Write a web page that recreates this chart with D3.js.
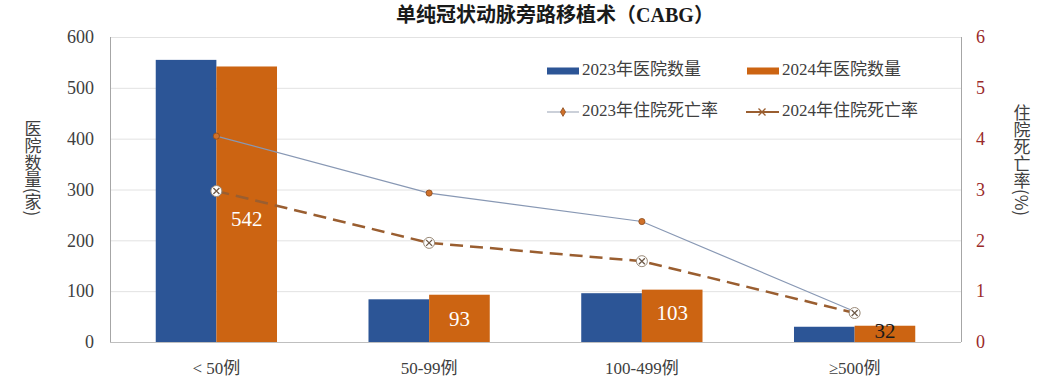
<!DOCTYPE html>
<html>
<head>
<meta charset="utf-8">
<script src="https://cdn.jsdelivr.net/npm/d3@7"></script>
<style>
  body { margin: 0; background: #fff; }
  .chart text { font-family: "Liberation Serif", "Noto Sans CJK SC", serif; }
  .vtitle { font-family: "Noto Sans CJK SC", sans-serif !important; writing-mode: vertical-rl; text-orientation: mixed; }
</style>
</head>
<body>
<svg class="chart"></svg>
<script>
var categories = ["< 50例", "50-99例", "100-499例", "≥500例"];
var series = ["2023年医院数量", "2024年医院数量"];
var hospitals2023 = [555, 84, 96, 30];
var hospitals2024 = [542, 93, 103, 32];
var mortality2023 = [4.05, 2.93, 2.37, 0.6];
var mortality2024 = [2.97, 1.95, 1.59, 0.57];
var leftTicks = [0, 100, 200, 300, 400, 500, 600];
var rightTicks = [0, 1, 2, 3, 4, 5, 6];

(function() {
    var width = 1048, height = 389;
    var margin = {top: 37, right: 87, bottom: 47, left: 110};
    var plotW = width - margin.left - margin.right,
        bottom = height - margin.bottom;

    var svg = d3.select(".chart")
        .attr("width", width)
        .attr("height", height);

    var x0 = d3.scaleBand().domain(categories)
        .range([margin.left, margin.left + plotW])
        .paddingInner(0.43).paddingOuter(0.215);
    var x1 = d3.scaleBand().domain(series).range([0, x0.bandwidth()]);
    var y = d3.scaleLinear().domain([0, 600]).range([bottom, margin.top]);
    var y2 = d3.scaleLinear().domain([0, 6]).range([bottom, margin.top]);
    var colors = ["#2c5596", "#cc6412"];

    // grid
    svg.append("g").selectAll("line")
        .data(leftTicks)
        .enter().append("line")
        .attr("x1", margin.left).attr("x2", margin.left + plotW)
        .attr("y1", function(d) { return y(d) + 0.5; })
        .attr("y2", function(d) { return y(d) + 0.5; })
        .attr("stroke", function(d) { return d === 0 ? "#bfbfbf" : "#e2e2e2"; })
        .attr("stroke-width", 1);

    svg.append("line").attr("x1", margin.left + 0.5).attr("x2", margin.left + 0.5)
        .attr("y1", y(600)).attr("y2", bottom).attr("stroke", "#a6a6a6");
    svg.append("line").attr("x1", margin.left + plotW + 0.5).attr("x2", margin.left + plotW + 0.5)
        .attr("y1", y(600)).attr("y2", bottom).attr("stroke", "#a6a6a6");

    // axes
    var leftAxis = svg.append("g")
        .attr("transform", "translate(" + (margin.left - 16) + ",0)")
        .call(d3.axisLeft(y).tickValues(leftTicks).tickSize(0).tickPadding(0));
    leftAxis.select(".domain").remove();
    leftAxis.selectAll("text").attr("font-size", 18).attr("fill", "#404040")
        .style("font-family", "Liberation Serif");

    var rightAxis = svg.append("g")
        .attr("transform", "translate(" + (margin.left + plotW + 15) + ",0)")
        .call(d3.axisRight(y2).tickValues(rightTicks).tickFormat(d3.format("d")).tickSize(0).tickPadding(0));
    rightAxis.select(".domain").remove();
    rightAxis.selectAll("text").attr("font-size", 18).attr("fill", "#9a2a2a")
        .style("font-family", "Liberation Serif");

    var bottomAxis = svg.append("g")
        .attr("transform", "translate(0," + bottom + ")")
        .call(d3.axisBottom(x0).tickSize(0).tickPadding(20));
    bottomAxis.select(".domain").remove();
    bottomAxis.selectAll("text").attr("font-size", 17).attr("fill", "#404040");

    // bars
    var barData = [hospitals2023, hospitals2024];
    var groups = svg.append("g").selectAll("g")
        .data(series)
        .enter().append("g")
        .attr("fill", function(d, i) { return colors[i]; });
    groups.selectAll("rect")
        .data(function(s, si) {
            return categories.map(function(c, ci) { return {c: c, s: s, v: barData[si][ci]}; });
        })
        .enter().append("rect")
        .attr("x", function(d) { return x0(d.c) + x1(d.s); })
        .attr("y", function(d) { return y(d.v); })
        .attr("width", x1.bandwidth())
        .attr("height", function(d) { return bottom - y(d.v); });

    // labels on 2024 bars
    svg.append("g").selectAll("text")
        .data(hospitals2024)
        .enter().append("text")
        .attr("x", function(d, i) { return x0(categories[i]) + x1(series[1]) + x1.bandwidth() / 2; })
        .attr("y", function(d, i) {
            if (i === 0) return y(d * 0.44);
            if (i === 3) return y(d) + 7;
            return y(d) + 26;
        })
        .attr("dominant-baseline", "middle")
        .attr("text-anchor", "middle")
        .attr("font-size", 21)
        .attr("fill", function(d, i) { return i === 3 ? "#1a1a1a" : "#fff"; })
        .text(function(d) { return d; });

    // lines
    var cx = function(i) { return x0(categories[i]) + x0.bandwidth() / 2; };
    var line = d3.line()
        .x(function(d, i) { return cx(i); })
        .y(function(d) { return y2(d); });

    svg.append("path").datum(mortality2023)
        .attr("d", line).attr("fill", "none")
        .attr("stroke", "#8898b4").attr("stroke-width", 1.2);
    svg.append("path").datum(mortality2024)
        .attr("d", line).attr("fill", "none")
        .attr("stroke", "#9a5e30").attr("stroke-width", 2.5)
        .attr("stroke-dasharray", "13,7");

    var diamond = d3.symbol().type(d3.symbolCircle).size(30);
    svg.append("g").selectAll("path")
        .data(mortality2023)
        .enter().append("path")
        .attr("d", diamond)
        .attr("transform", function(d, i) { return "translate(" + cx(i) + "," + y2(d) + ")"; })
        .attr("fill", "#d0712a").attr("stroke", "#8a4a1c").attr("stroke-width", 0.8);

    var xm = svg.append("g").selectAll("g")
        .data(mortality2024)
        .enter().append("g")
        .attr("transform", function(d, i) { return "translate(" + cx(i) + "," + y2(d) + ")"; });
    xm.append("circle").attr("r", 5.5).attr("fill", "#fff").attr("stroke", "#9a8a78").attr("stroke-width", 1);
    xm.append("path").attr("d", "M-3,-3L3,3M-3,3L3,-3").attr("stroke", "#6e5a48").attr("stroke-width", 1.3);

    // legend
    var lg = svg.append("g");
    [[547, 71], [747, 71]].forEach(function(p, i) {
        lg.append("rect").attr("x", p[0]).attr("y", p[1] - 3.5).attr("width", 32).attr("height", 7)
            .attr("fill", colors[i]);
        lg.append("text").attr("x", p[0] + 35).attr("y", p[1]).attr("dominant-baseline", "middle")
            .attr("font-size", 17).attr("fill", "#404040").text(series[i]);
    });
    lg.append("line").attr("x1", 547).attr("x2", 579).attr("y1", 112).attr("y2", 112)
        .attr("stroke", "#a8b0c0").attr("stroke-width", 1.2);
    lg.append("path").attr("d", d3.symbol().type(d3.symbolDiamond).size(22)).attr("transform", "translate(563,112)")
        .attr("fill", "#d0712a").attr("stroke", "#8a4a1c").attr("stroke-width", 0.8);
    lg.append("text").attr("x", 582).attr("y", 112).attr("dominant-baseline", "middle")
        .attr("font-size", 17).attr("fill", "#404040").text("2023年住院死亡率");
    lg.append("line").attr("x1", 746).attr("x2", 779).attr("y1", 112).attr("y2", 112)
        .attr("stroke", "#9a5e30").attr("stroke-width", 2);
    lg.append("path").attr("d", "M-3.5,-3.5L3.5,3.5M-3.5,3.5L3.5,-3.5").attr("transform", "translate(762,112)")
        .attr("stroke", "#9a5e30").attr("stroke-width", 1.3);
    lg.append("text").attr("x", 782).attr("y", 112).attr("dominant-baseline", "middle")
        .attr("font-size", 17).attr("fill", "#404040").text("2024年住院死亡率");

    // titles
    svg.append("text").attr("x", 555).attr("y", 17)
        .attr("text-anchor", "middle").attr("dominant-baseline", "middle")
        .attr("font-size", 20).attr("font-weight", "bold").attr("fill", "#1a1a1a")
        .text("单纯冠状动脉旁路移植术（CABG）");

    svg.append("text").attr("class", "vtitle")
        .attr("x", 33).attr("y", 168).attr("text-anchor", "middle")
        .attr("font-size", 17).attr("fill", "#404040").text("医院数量(家)");
    svg.append("text").attr("class", "vtitle")
        .attr("x", 1022).attr("y", 160).attr("text-anchor", "middle")
        .attr("font-size", 17).attr("fill", "#404040").text("住院死亡率(%)");
})();
</script>
</body>
</html>
